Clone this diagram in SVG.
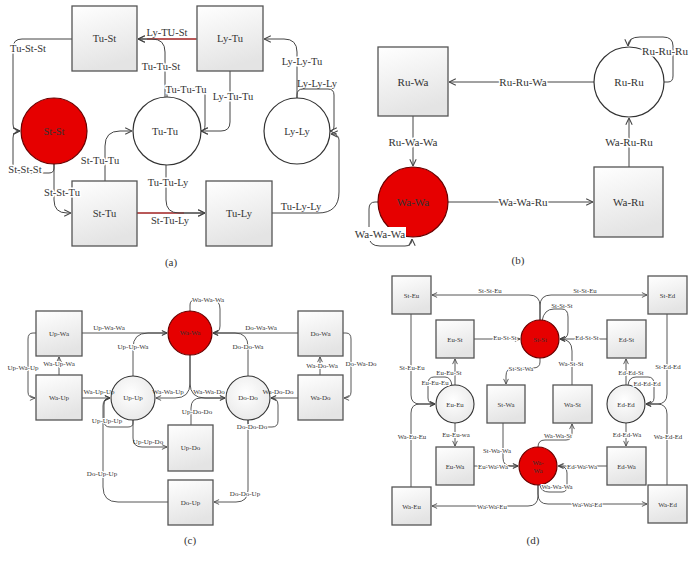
<svg xmlns="http://www.w3.org/2000/svg" width="694" height="562" viewBox="0 0 694 562">
<defs>
<linearGradient id="gb" x1="0" y1="0" x2="0.3" y2="1"><stop offset="0" stop-color="#ffffff"/><stop offset="1" stop-color="#e4e4e4"/></linearGradient>
<radialGradient id="gc" cx="0.45" cy="0.4" r="0.7"><stop offset="0" stop-color="#ffffff"/><stop offset="1" stop-color="#e6e6e6"/></radialGradient>
<marker id="a" viewBox="0 0 10 10" refX="9.5" refY="5" markerWidth="8" markerHeight="8" markerUnits="userSpaceOnUse" orient="auto"><path d="M1,1 L9.5,5 L1,9" fill="none" stroke="#444" stroke-width="1.3"/></marker>
<marker id="s" viewBox="0 0 10 10" refX="9.5" refY="5" markerWidth="6" markerHeight="6" markerUnits="userSpaceOnUse" orient="auto"><path d="M1,1 L9.5,5 L1,9" fill="none" stroke="#444" stroke-width="1.4"/></marker>
<style>
.box{fill:url(#gb);stroke:#555;stroke-width:1.3}
.cir{fill:#fff;stroke:#333;stroke-width:1.2}
.cig{fill:url(#gc);stroke:#333;stroke-width:1.1}
.red{fill:#e60000;stroke:#6a0000;stroke-width:1.2}
.e{fill:none;stroke:#444;stroke-width:1;marker-end:url(#a)}
.es{fill:none;stroke:#444;stroke-width:0.9;marker-end:url(#s)}
.rl{fill:none;stroke:#d01010;stroke-width:1}
text{font-family:"Liberation Serif","DejaVu Serif",serif;fill:#333;text-anchor:middle;dominant-baseline:central}
.t1{font-size:11px}
.t2{font-size:10.5px}
.t3{font-size:7px}
.t4{font-size:6.8px}
.h{paint-order:stroke;stroke:#fff;stroke-width:3px;stroke-linejoin:round}
.hs{paint-order:stroke;stroke:#fff;stroke-width:2px;stroke-linejoin:round}
.cap{font-size:11px}
</style>
</defs>

<!-- ================= Panel (a) ================= -->
<g id="a-edges">
<path class="e" d="M197,39 H138"/>
<path class="rl" d="M147,39 H196"/>
<path class="e" d="M165,97 V52 Q165,39 152,39 H138"/>
<path class="e" d="M167,97 V94 Q167,89 172,89 H200 Q205,89 205,95 V125 Q205,131 201,131"/>
<path class="e" d="M230,71 V122 Q230,131 221,131 H201"/>
<path class="e" d="M297,98 V52 Q297,39 284,39 H264"/>
<path class="e" d="M297,98 V95 Q297,89 303,89 H328 Q334,89 334,95 V126 Q334,131 330,131"/>
<path class="e" d="M272,213 H318 Q339,213 339,192 V140 Q339,134 331,134"/>
<path class="e" d="M137,213 H205"/>
<path class="rl" d="M137,213 H184"/>
<path class="e" d="M166,165 V200 Q166,213 179,213 H205"/>
<path class="e" d="M105,181 V146 Q105,131 120,131 H132"/>
<path class="e" d="M72,39 H22 Q13,39 13,48 V124 Q13,131 20,131"/>
<path class="e" d="M54,164 V168 Q54,173 49,173 H20 Q13,173 13,166 V138 Q13,131 20,131"/>
<path class="e" d="M54,164 V200 Q54,213 67,213 H71"/>
</g>
<g id="a-TuSt"><rect class="box" x="72" y="6" width="65" height="65"/><text class="t2" x="104.5" y="38.5">Tu-St</text></g>
<g id="a-LyTu"><rect class="box" x="197" y="6" width="66" height="65"/><text class="t2" x="230" y="38.5">Ly-Tu</text></g>
<g id="a-StSt"><circle class="red" cx="54" cy="131" r="33"/><text class="t2" x="54" y="131">St-St</text></g>
<g id="a-TuTu"><circle class="cir" cx="167" cy="131" r="34"/><text class="t2" x="165" y="131">Tu-Tu</text></g>
<g id="a-LyLy"><circle class="cir" cx="297" cy="131" r="33"/><text class="t2" x="297" y="131">Ly-Ly</text></g>
<g id="a-StTu"><rect class="box" x="72" y="181" width="65" height="65"/><text class="t2" x="104.5" y="213.5">St-Tu</text></g>
<g id="a-TuLy"><rect class="box" x="206" y="181" width="66" height="65"/><text class="t2" x="239" y="213.5">Tu-Ly</text></g>
<g id="a-labels">
<text class="t2" x="167" y="32">Ly-TU-St</text>
<text class="t2 h" x="161" y="66">Tu-Tu-St</text>
<text class="t2 h" x="186" y="89">Tu-Tu-Tu</text>
<text class="t2 h" x="233" y="96">Ly-Tu-Tu</text>
<text class="t2 h" x="302" y="61">Ly-Ly-Tu</text>
<text class="t2" x="317" y="83">Ly-Ly-Ly</text>
<text class="t2" x="301" y="206">Tu-Ly-Ly</text>
<text class="t2" x="170" y="220">St-Tu-Ly</text>
<text class="t2 h" x="168" y="182">Tu-Tu-Ly</text>
<text class="t2 h" x="100" y="160">St-Tu-Tu</text>
<text class="t2 h" x="28" y="48">Tu-St-St</text>
<text class="t2 h" x="25" y="169">St-St-St</text>
<text class="t2 h" x="62" y="192">St-St-Tu</text>
</g>
<text class="cap" x="171" y="262">(a)</text>

<!-- ================= Panel (b) ================= -->
<g id="b-edges">
<path class="e" d="M594,82 H449"/>
<path class="e" d="M664,82 H668 Q673,82 673,76 V46 Q673,37 663,37 H640 Q628,37 628,46"/>
<path class="e" d="M413,116 V166"/>
<path class="e" d="M629,167 V118"/>
<path class="e" d="M448,202 H593"/>
<path class="e" d="M378,202 H375 Q369,202 369,209 V236 Q369,246 380,246 H405 Q412,246 412,239"/>
</g>
<g id="b-RuWa"><rect class="box" x="378" y="47" width="70" height="69"/><text class="t1" x="413" y="82">Ru-Wa</text></g>
<g id="b-RuRu"><circle class="cir" cx="629" cy="82" r="35"/><text class="t1" x="629" y="82">Ru-Ru</text></g>
<g id="b-WaWa"><circle class="red" cx="413" cy="202" r="35"/><text class="t1" x="413" y="202">Wa-Wa</text></g>
<g id="b-WaRu"><rect class="box" x="594" y="167" width="69" height="70"/><text class="t1" x="628.5" y="202">Wa-Ru</text></g>
<g id="b-labels">
<text class="t1 h" x="523" y="82">Ru-Ru-Wa</text>
<text class="t1 h" x="665" y="51">Ru-Ru-Ru</text>
<text class="t1 h" x="413" y="142">Ru-Wa-Wa</text>
<text class="t1 h" x="629" y="142">Wa-Ru-Ru</text>
<text class="t1 h" x="523" y="202">Wa-Wa-Ru</text>
<rect x="354" y="227" width="52" height="14" fill="#fff"/><text class="t1" x="380" y="234">Wa-Wa-Wa</text>
</g>
<text class="cap" x="518" y="260">(b)</text>

<!-- ================= Panel (c) ================= -->
<g id="c-edges">
<path class="es" d="M82,333 H167"/>
<path class="es" d="M133,376 V348 Q133,333 148,333 H167"/>
<path class="es" d="M59,375 V357"/>
<path class="es" d="M36,333 H33 Q28,333 28,339 V392 Q28,398 35,398"/>
<path class="es" d="M82,398 H110"/>
<path class="es" d="M168,502 H118 Q103,502 103,487 V406 Q103,398 110,398"/>
<path class="es" d="M133,420 V423 Q133,427 128,427 H110 Q104,427 104,421 V405 Q104,398 110,398"/>
<path class="es" d="M133,420 V438 Q133,447 142,447 H167"/>
<path class="es" d="M190,311 V305 Q190,300 195,300 H212 Q220,300 220,309 V326 Q220,333 213,333"/>
<path class="es" d="M298,333 H213"/>
<path class="es" d="M248,376 V347 Q248,333 235,333 H213"/>
<path class="es" d="M320,375 V357"/>
<path class="es" d="M343,333 H346 Q351,333 351,339 V392 Q351,398 344,398"/>
<path class="es" d="M298,398 H271"/>
<path class="es" d="M248,420 V423 Q248,427 253,427 H272 Q278,427 278,421 V405 Q278,398 271,398"/>
<path class="es" d="M190,355 V383 Q190,398 175,398 H156"/>
<path class="es" d="M190,355 V383 Q190,398 205,398 H225"/>
<path class="es" d="M191,425 V408 Q191,398 201,398 H225"/>
<path class="es" d="M248,420 V490 Q248,502 236,502 H214"/>
</g>
<g id="c-UpWa"><rect class="box" x="36" y="311" width="46" height="45"/><text class="t3" x="59" y="334">Up-Wa</text></g>
<g id="c-WaUp"><rect class="box" x="36" y="375" width="46" height="45"/><text class="t3" x="59" y="398">Wa-Up</text></g>
<g id="c-WaWa"><circle class="red" cx="190" cy="333" r="22"/><text class="t3" x="190" y="333">Wa-Wa</text></g>
<g id="c-DoWa"><rect class="box" x="298" y="311" width="45" height="45"/><text class="t3" x="320.5" y="334">Do-Wa</text></g>
<g id="c-WaDo"><rect class="box" x="298" y="375" width="45" height="45"/><text class="t3" x="320.5" y="398">Wa-Do</text></g>
<g id="c-UpUp"><circle class="cig" cx="133" cy="398" r="22"/><text class="t3" x="133" y="398">Up-Up</text></g>
<g id="c-DoDo"><circle class="cig" cx="248" cy="398" r="22"/><text class="t3" x="248" y="398">Do-Do</text></g>
<g id="c-UpDo"><rect class="box" x="168" y="425" width="45" height="46"/><text class="t3" x="190.5" y="448">Up-Do</text></g>
<g id="c-DoUp"><rect class="box" x="168" y="480" width="45" height="45"/><text class="t3" x="190.5" y="502.5">Do-Up</text></g>
<g id="c-labels">
<text class="t3" x="109" y="328">Up-Wa-Wa</text>
<text class="t3 hs" x="133" y="347">Up-Up-Wa</text>
<text class="t3 hs" x="59" y="364">Wa-Up-Wa</text>
<text class="t3 hs" x="23" y="368">Up-Wa-Up</text>
<text class="t3" x="99" y="392">Wa-Up-Up</text>
<text class="t3 hs" x="102" y="474">Do-Up-Up</text>
<text class="t3 hs" x="107" y="421">Up-Up-Up</text>
<text class="t3" x="148" y="442">Up-Up-Do</text>
<text class="t3 hs" x="208" y="300">Wa-Wa-Wa</text>
<text class="t3" x="261" y="328">Do-Wa-Wa</text>
<text class="t3 hs" x="248" y="347">Do-Do-Wa</text>
<text class="t3 hs" x="322" y="366">Wa-Do-Wa</text>
<text class="t3 hs" x="361" y="364">Do-Wa-Do</text>
<text class="t3" x="278" y="392">Wa-Do-Do</text>
<text class="t3 hs" x="252" y="427">Do-Do-Do</text>
<text class="t3" x="168" y="392">Wa-Wa-Up</text>
<text class="t3" x="209" y="392">Wa-Wa-Do</text>
<text class="t3 hs" x="197" y="412">Up-Do-Do</text>
<text class="t3 hs" x="245" y="494">Do-Do-Up</text>
</g>
<text class="cap" x="190" y="540">(c)</text>

<!-- ================= Panel (d) ================= -->
<g id="d-edges">
<path class="es" d="M540,320 V306 Q540,295 529,295 H432"/>
<path class="es" d="M540,320 V306 Q540,295 551,295 H647"/>
<path class="es" d="M542,321 Q544,309 554,309 H562 Q568,309 568,317 V332 Q568,339 560,339"/>
<path class="es" d="M474,339 H520"/>
<path class="es" d="M607,339 H560"/>
<path class="es" d="M572,385 V351 Q572,339 560,339"/>
<path class="es" d="M540,358 V362 Q540,368 533,368 H513 Q506,368 506,376 V384"/>
<path class="es" d="M455,385 V359"/>
<path class="es" d="M452,386 Q451,377 445,377 H434 Q428,377 428,384 V398 Q428,404 435,404"/>
<path class="es" d="M411,314 V395 Q411,404 420,404 H435"/>
<path class="es" d="M411,487 V413 Q411,404 420,404 H435"/>
<path class="es" d="M455,423 V446"/>
<path class="es" d="M503,423 V458 Q503,466 511,466 H518"/>
<path class="es" d="M474,466 H518"/>
<path class="es" d="M538,447 Q538,440 545,440 H566 Q572,440 572,433 V424"/>
<path class="es" d="M607,466 H558"/>
<path class="es" d="M540,485 Q541,492 549,492 H562 Q567,492 567,486 V473 Q567,466 559,466"/>
<path class="es" d="M538,485 V496 Q538,506 528,506 H432"/>
<path class="es" d="M538,485 V494 Q538,504 548,504 H647"/>
<path class="es" d="M626,385 V359"/>
<path class="es" d="M628,385 Q629,377 636,377 H648 Q654,377 654,384 V398 Q654,404 646,404"/>
<path class="es" d="M667,314 V394 Q667,404 657,404 H646"/>
<path class="es" d="M667,485 V414 Q667,404 657,404 H646"/>
<path class="es" d="M626,423 V446"/>
</g>
<g id="d-StEu"><rect class="box" x="392" y="276" width="39" height="38"/><text class="t4" x="411.5" y="295">St-Eu</text></g>
<g id="d-StEd"><rect class="box" x="648" y="276" width="39" height="38"/><text class="t4" x="667.5" y="295">St-Ed</text></g>
<g id="d-EuSt"><rect class="box" x="436" y="320" width="38" height="38"/><text class="t4" x="455" y="339">Eu-St</text></g>
<g id="d-StSt"><circle class="red" cx="540" cy="339" r="19"/><text class="t4" x="540" y="339">St-St</text></g>
<g id="d-EdSt"><rect class="box" x="607" y="320" width="39" height="38"/><text class="t4" x="626.5" y="339">Ed-St</text></g>
<g id="d-EuEu"><circle class="cig" cx="455" cy="404" r="19"/><text class="t4" x="455" y="404">Eu-Eu</text></g>
<g id="d-StWa"><rect class="box" x="487" y="385" width="38" height="38"/><text class="t4" x="506" y="404">St-Wa</text></g>
<g id="d-WaSt"><rect class="box" x="553" y="385" width="39" height="38"/><text class="t4" x="572.5" y="404">Wa-St</text></g>
<g id="d-EdEd"><circle class="cig" cx="626" cy="404" r="19"/><text class="t4" x="626" y="404">Ed-Ed</text></g>
<g id="d-EuWa"><rect class="box" x="436" y="447" width="38" height="38"/><text class="t4" x="455" y="466">Eu-Wa</text></g>
<g id="d-WaWa"><circle class="red" cx="538" cy="466" r="19"/><text class="t4" x="538" y="462">Wa-</text><text class="t4" x="538" y="470">Wa</text></g>
<g id="d-EdWa"><rect class="box" x="607" y="447" width="39" height="38"/><text class="t4" x="626.5" y="466">Ed-Wa</text></g>
<g id="d-WaEu"><rect class="box" x="392" y="487" width="39" height="38"/><text class="t4" x="411.5" y="506">Wa-Eu</text></g>
<g id="d-WaEd"><rect class="box" x="648" y="485" width="39" height="38"/><text class="t4" x="667.5" y="504">Wa-Ed</text></g>
<g id="d-labels">
<text class="t4" x="490" y="290">St-St-Eu</text>
<text class="t4" x="585" y="290">St-St-Eu</text>
<text class="t4" x="562" y="305">St-St-St</text>
<text class="t4 hs" x="505" y="337">Eu-St-St</text>
<text class="t4 hs" x="587" y="337">Ed-St-St</text>
<text class="t4 hs" x="571" y="363">Wa-St-St</text>
<text class="t4 hs" x="521" y="368">St-St-Wa</text>
<text class="t4 hs" x="449" y="372">Eu-Eu-St</text>
<text class="t4 hs" x="435" y="382">Eu-Eu-Eu</text>
<text class="t4 hs" x="412" y="367">St-Eu-Eu</text>
<text class="t4 hs" x="412" y="436">Wa-Eu-Eu</text>
<text class="t4 hs" x="456" y="434">Eu-Eu-wa</text>
<text class="t4 hs" x="497" y="450">St-Wa-Wa</text>
<text class="t4 hs" x="493" y="466">Eu-Wa-Wa</text>
<text class="t4 hs" x="558" y="435">Wa-Wa-St</text>
<text class="t4 hs" x="582" y="466">Ed-Wa-Wa</text>
<text class="t4 hs" x="557" y="486">Wa-Wa-Wa</text>
<text class="t4 hs" x="492" y="506">Wa-Wa-Eu</text>
<text class="t4 hs" x="587" y="504">Wa-Wa-Ed</text>
<text class="t4 hs" x="631" y="372">Ed-Ed-St</text>
<text class="t4 hs" x="647" y="383">Ed-Ed-Ed</text>
<text class="t4 hs" x="668" y="366">St-Ed-Ed</text>
<text class="t4 hs" x="668" y="436">Wa-Ed-Ed</text>
<text class="t4 hs" x="627" y="434">Ed-Ed-Wa</text>
</g>
<text class="cap" x="533" y="540">(d)</text>
</svg>
